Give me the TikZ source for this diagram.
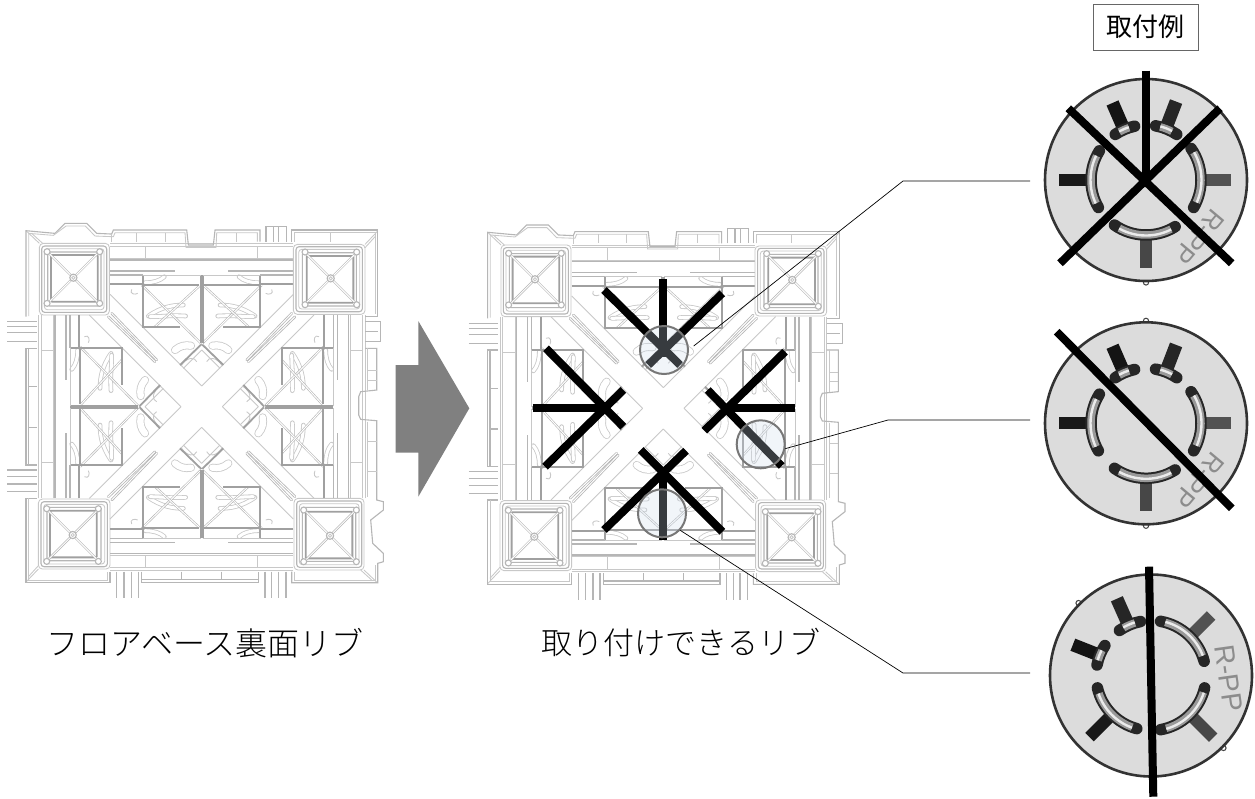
\documentclass[tikz,border=0pt]{standalone}
\usepackage{fontspec}
\setmainfont{Noto Sans CJK JP}
\newfontfamily\latinf{Liberation Sans}
\newfontfamily\capfont{Noto Sans CJK JP Light}
\tikzset{
  lt/.style={draw=ribl,line width=.85pt},
  md/.style={draw=ribm,line width=1.1pt},
  dk/.style={draw=ribd,line width=1.8pt},
  dbl/.style={draw=ribm,line width=.6pt,double=white,double distance=1pt},
  slotline/.style={ribm,line width=2.6pt,line cap=round,postaction={draw=white,line width=1pt}},
  beanline/.style={ribl,line width=4.6pt,line cap=round,postaction={draw=white,line width=3pt}},
  fatbean/.style={ribl,line width=8pt,line cap=round,postaction={draw=white,line width=6.4pt}},
  cross/.style={draw=black,line width=8pt},
  lens/.style={draw=lensg,line width=2pt,fill=lensb,fill opacity=.27},
  leader/.style={draw=black,line width=.7pt},
  caption/.style={font=\capfont\fontsize{31}{34}\selectfont,inner sep=0pt,anchor=center},
}
\definecolor{ribl}{HTML}{C8C8C8}
\definecolor{ribm}{HTML}{B6B6B6}
\definecolor{ribd}{HTML}{A0A0A0}
\definecolor{lensg}{HTML}{777777}
\definecolor{lensb}{rgb}{.8,.86,.92}
\definecolor{dialf}{HTML}{DCDCDC}
\definecolor{arrowg}{HTML}{808080}
\definecolor{tagline}{HTML}{666666}
\newcommand{\ribhalf}{%
  \draw[lt] (0,-62)--(-275,-337);
  \draw[slotline] (-135,-140)--(-270,-280);
  \draw[beanline] (-160,-272) .. controls (-120,-300) and (-85,-305) .. (-55,-305);
  \draw[beanline] (-155,-270) .. controls (-120,-270) and (-90,-275) .. (-48,-272);
  \draw[beanline] (-170,-372) .. controls (-145,-372) and (-125,-378) .. (-112,-390);
  \draw[fatbean] (-80,-170) .. controls (-65,-183) and (-50,-186) .. (-32,-183);
  \draw[lt] (-62,-122) .. controls (-45,-150) and (-20,-150) .. (-15,-135);
  \draw[lt] (-210,-352) .. controls (-218,-338) and (-200,-335) .. (-192,-340);
  \draw[dk] (-65,-125)--(0,-188);
  \draw[lt] (-55,-115)--(0,-170);
  \draw[dbl] (0,-188)--(-180,-365);
  \draw[dbl] (-7,-362)--(-140,-240);
  \draw[dk] (-175,-365)--(-7,-365);
  \draw[dk] (-175,-395)--(-175,-240)--(-65,-240);
  \draw[dk] (-3,-395)--(-3,-190);
  \draw[lt] (-175,-395)--(-3,-395);
  \draw[lt] (-275,-490)--(0,-490);
  \draw[lt] (-275,-482)--(0,-482);
  \draw[lt] (-275,-445)--(0,-445);
  \draw[lt] (-168,-482)--(-168,-445);
  \draw[md] (-275,-440)--(0,-440);
  \draw[md] (-275,-407)--(-80,-407);
  \draw[md] (-275,-395)--(-175,-395);
  \draw[dk] (-275,-367)--(-175,-367);
}
\newcommand{\cornersq}{%
  \draw[lt,rounded corners=4pt] (-487,-490) rectangle (-277,-275);
  \draw[md,rounded corners=3pt] (-480,-482) rectangle (-285,-283);
  \draw[lt,rounded corners=3pt] (-472,-474) rectangle (-293,-291);
  \draw[md,rounded corners=2pt] (-462,-464) rectangle (-302,-302);
  \draw[dk,rounded corners=1pt] (-452,-455) rectangle (-312,-315);
  \draw[dbl] (-385,-387)--(-460,-462);
  \draw[dbl] (-385,-387)--(-310,-462);
  \draw[dbl] (-385,-387)--(-460,-312);
  \draw[dbl] (-385,-387)--(-310,-312);
  \draw[md,fill=white] (-385,-387) circle[radius=3.6pt];
  \draw[lt] (-385,-387) circle[radius=1.6pt];
  \foreach \ax/\ay in {-464/-465,-306/-465,-464/-310,-306/-310}
    \draw[md,fill=white] (\ax,\ay) circle[radius=3pt];
  \draw[lt] (-487,-490)--(-527,-528);
  \draw[lt] (-477,-490)--(-510,-520);
}
\newcommand{\plate}[2]{%
\begin{scope}[shift={(#1,#2)},x=.33333pt,y=-.33333pt]
  \foreach \r in {0,90,180,270}{
    \begin{scope}[rotate=\r]
      \ribhalf
      \begin{scope}[xscale=-1]\ribhalf\end{scope}
      \cornersq
    \end{scope}
  }
  \begin{scope}[shift={(-605,-590)}]
    \draw[md] (78,320)--(78,62)--(165,70)--(195,40)--(260,40)--(290,70)--(335,72)--(340,60)--(560,60)--(565,105)--(640,105)--(645,60)--(780,60)--(780,95);
    \draw[lt] (86,318)--(86,70)--(160,76)--(198,48)--(256,48)--(285,78)--(340,80)--(345,68)--(555,68)--(558,112)--(648,112)--(650,68)--(772,68)--(772,95);
    \draw[lt] (335,72)--(335,96) (410,68)--(410,95) (495,68)--(495,95) (708,68)--(708,95);
    \draw[md] (798,95)--(798,50)--(860,50)--(860,95) (820,50)--(820,95) (836,50)--(836,95);
    \draw[md] (875,95)--(875,60)--(1133,60)--(1133,320)--(1095,320);
    \draw[lt] (883,95)--(883,68)--(1125,68)--(1125,312);
    \draw[lt] (990,68)--(990,95);
    \draw[md] (1095,335)--(1142,335)--(1142,395)--(1095,395) (1095,365)--(1135,365);
    \draw[md] (1095,415)--(1130,415)--(1130,540)--(1082,545)--(1076,560)--(1076,615)--(1082,628)--(1130,632)--(1130,870)--(1150,875)--(1150,900)--(1112,930)--(1118,1000)--(1150,1030)--(1150,1055)--(1133,1060)--(1133,1118)--(875,1118)--(875,1085);
    \draw[lt] (1103,415)--(1103,540) (1103,635)--(1103,860) (1103,482)--(1130,482) (1103,510)--(1130,510) (1103,695)--(1130,695) (1103,785)--(1130,785);
    \draw[lt] (883,1085)--(883,1110)--(1125,1110)--(1125,1065);
    \draw[md] (425,1085)--(425,1118)--(775,1118)--(775,1085) (545,1085)--(545,1108) (665,1085)--(665,1108) (425,1108)--(775,1108);
    \draw[md] (350,1085)--(350,1165) (372,1085)--(372,1165) (394,1085)--(394,1165) (415,1085)--(415,1165);
    \draw[md] (795,1085)--(795,1165) (815,1085)--(815,1165) (835,1085)--(835,1165) (858,1085)--(858,1165);
    \draw[md] (330,1085)--(330,1118)--(78,1118)--(78,865)--(110,865);
    \draw[lt] (86,865)--(86,1110)--(322,1110)--(322,1085);
    \draw[md] (110,765)--(78,765)--(78,415)--(110,415) (85,415)--(85,765) (85,530)--(110,530) (85,652)--(110,652);
    \draw[md] (22,335)--(110,335) (22,350)--(110,350) (22,368)--(110,368) (22,395)--(110,395);
    \draw[md] (22,780)--(110,780) (22,800)--(110,800) (22,822)--(110,822) (22,845)--(110,845);
  \end{scope}
\end{scope}}
\newcommand{\dial}[5]{%
\begin{scope}[shift={(#1,#2)},x=1pt,y=1pt,rotate=#3]
  \draw[draw=black!75,line width=1pt,fill=white] (90:102.5) circle[radius=2.6pt];
  \draw[draw=black!75,line width=1pt,fill=white] (270:102.5) circle[radius=2.6pt];
  \draw[draw=black!80,line width=2.6pt,fill=dialf] (0,0) circle[radius=101pt];
  \foreach \ang/\rin/\rout/\col/\wid in {180/58/87/black!90/12,0/58/85/black!68/12,270/60/88/black!72/12,113.5/60/84/black!92/13,69/60/84/black!85/13}
    \draw[draw=\col,line width=\wid pt] (\ang:\rin)--(\ang:\rout);
  \foreach \sa/\ea in {148/210,-30/35,235/302,102/124,56/80}{
    \draw[black!85,line width=11.5pt,line cap=round] (\sa:55) arc[start angle=\sa,end angle=\ea,radius=55pt];
    \pgfmathsetmacro{\sb}{\sa+6}\pgfmathsetmacro{\eb}{\ea-5}
    \draw[black!40,line width=7.5pt] (\sb:55) arc[start angle=\sb,end angle=\eb,radius=55pt];
    \draw[black!8,line width=2.4pt] (\sb:55.5) arc[start angle=\sb,end angle=\eb,radius=55.5pt];
  }
  \node[rotate=#4,text=black!45,font=\latinf\fontsize{#5}{#5}\selectfont,inner sep=0pt] at (-47:78) {R-PP};
\end{scope}}
\begin{document}
\begin{tikzpicture}[x=1pt,y=-1pt]
\useasboundingbox[fill=white] (0,0) rectangle (1255,798);
\plate{201.7}{406.7}
\plate{663.3}{408.3}
\fill[arrowg] (395.7,365)--(418.3,365)--(418.3,321)--(469.3,408.3)--(418.3,496.7)--(418.3,452.7)--(395.7,452.7)--cycle;
\draw[cross] (662.7,279)--(662.7,357);
\draw[cross] (604,290)--(680,365);
\draw[cross] (722.3,293.3)--(648.3,365);
\draw[cross] (533.3,408.3)--(605,408.3);
\draw[cross] (546,348.3)--(623.3,426.7);
\draw[cross] (545,466.7)--(623.3,390);
\draw[cross] (795,408.3)--(726.7,408.3);
\draw[cross] (785,351.7)--(704.3,430.7);
\draw[cross] (707.7,390)--(781.7,466);
\draw[cross] (662.7,473.3)--(662.7,540);
\draw[cross] (640.7,450)--(722.3,531.7);
\draw[cross] (686,450.7)--(604,530);
\node[circle,lens,minimum size=48pt,inner sep=0pt] (lensa) at (664,350) {};
\node[circle,lens,minimum size=48pt,inner sep=0pt] (lensb) at (760.7,444.3) {};
\node[circle,lens,minimum size=48pt,inner sep=0pt] (lensc) at (662,513.3) {};
\dial{1146}{180}{0}{-130}{26}
\dial{1146}{423.3}{0}{-130}{26}
\dial{1151}{675.5}{45}{-82}{28}
\draw[cross] (1146,70.7)--(1146,180);
\draw[cross] (1068.3,108.3)--(1231.7,263.3);
\draw[cross] (1220,108.3)--(1060,263.3);
\draw[cross] (1056.7,331.7)--(1231.7,508.3);
\draw[cross] (1149,566.7)--(1153.3,796.7);
\coordinate (ea) at (903,181);\coordinate (eb) at (1030,181);
\coordinate (fa) at (888,420);\coordinate (fb) at (1030,420);
\coordinate (ga) at (903,673);\coordinate (gb) at (1030,673);
\draw[leader] ([shift={(4.7pt,4pt)}]lensa.east) -- (ea) -- (eb);
\draw[leader] (lensb.-10) -- (fa) -- (fb);
\draw[leader] (lensc.-43) -- (ga) -- (gb);
\node[caption,font=\capfont\fontsize{32}{34}\selectfont] (capa) at (205,643) {フロアベース裏面リブ};
\node[caption] (capb) at (681,643) {取り付けできるリブ};
\node[draw=tagline,line width=1pt,minimum width=105pt,minimum height=46pt,inner sep=0pt,font=\fontsize{26}{28}\selectfont] (tag) at (1145.7,27) {取付例};
\end{tikzpicture}
\end{document}
